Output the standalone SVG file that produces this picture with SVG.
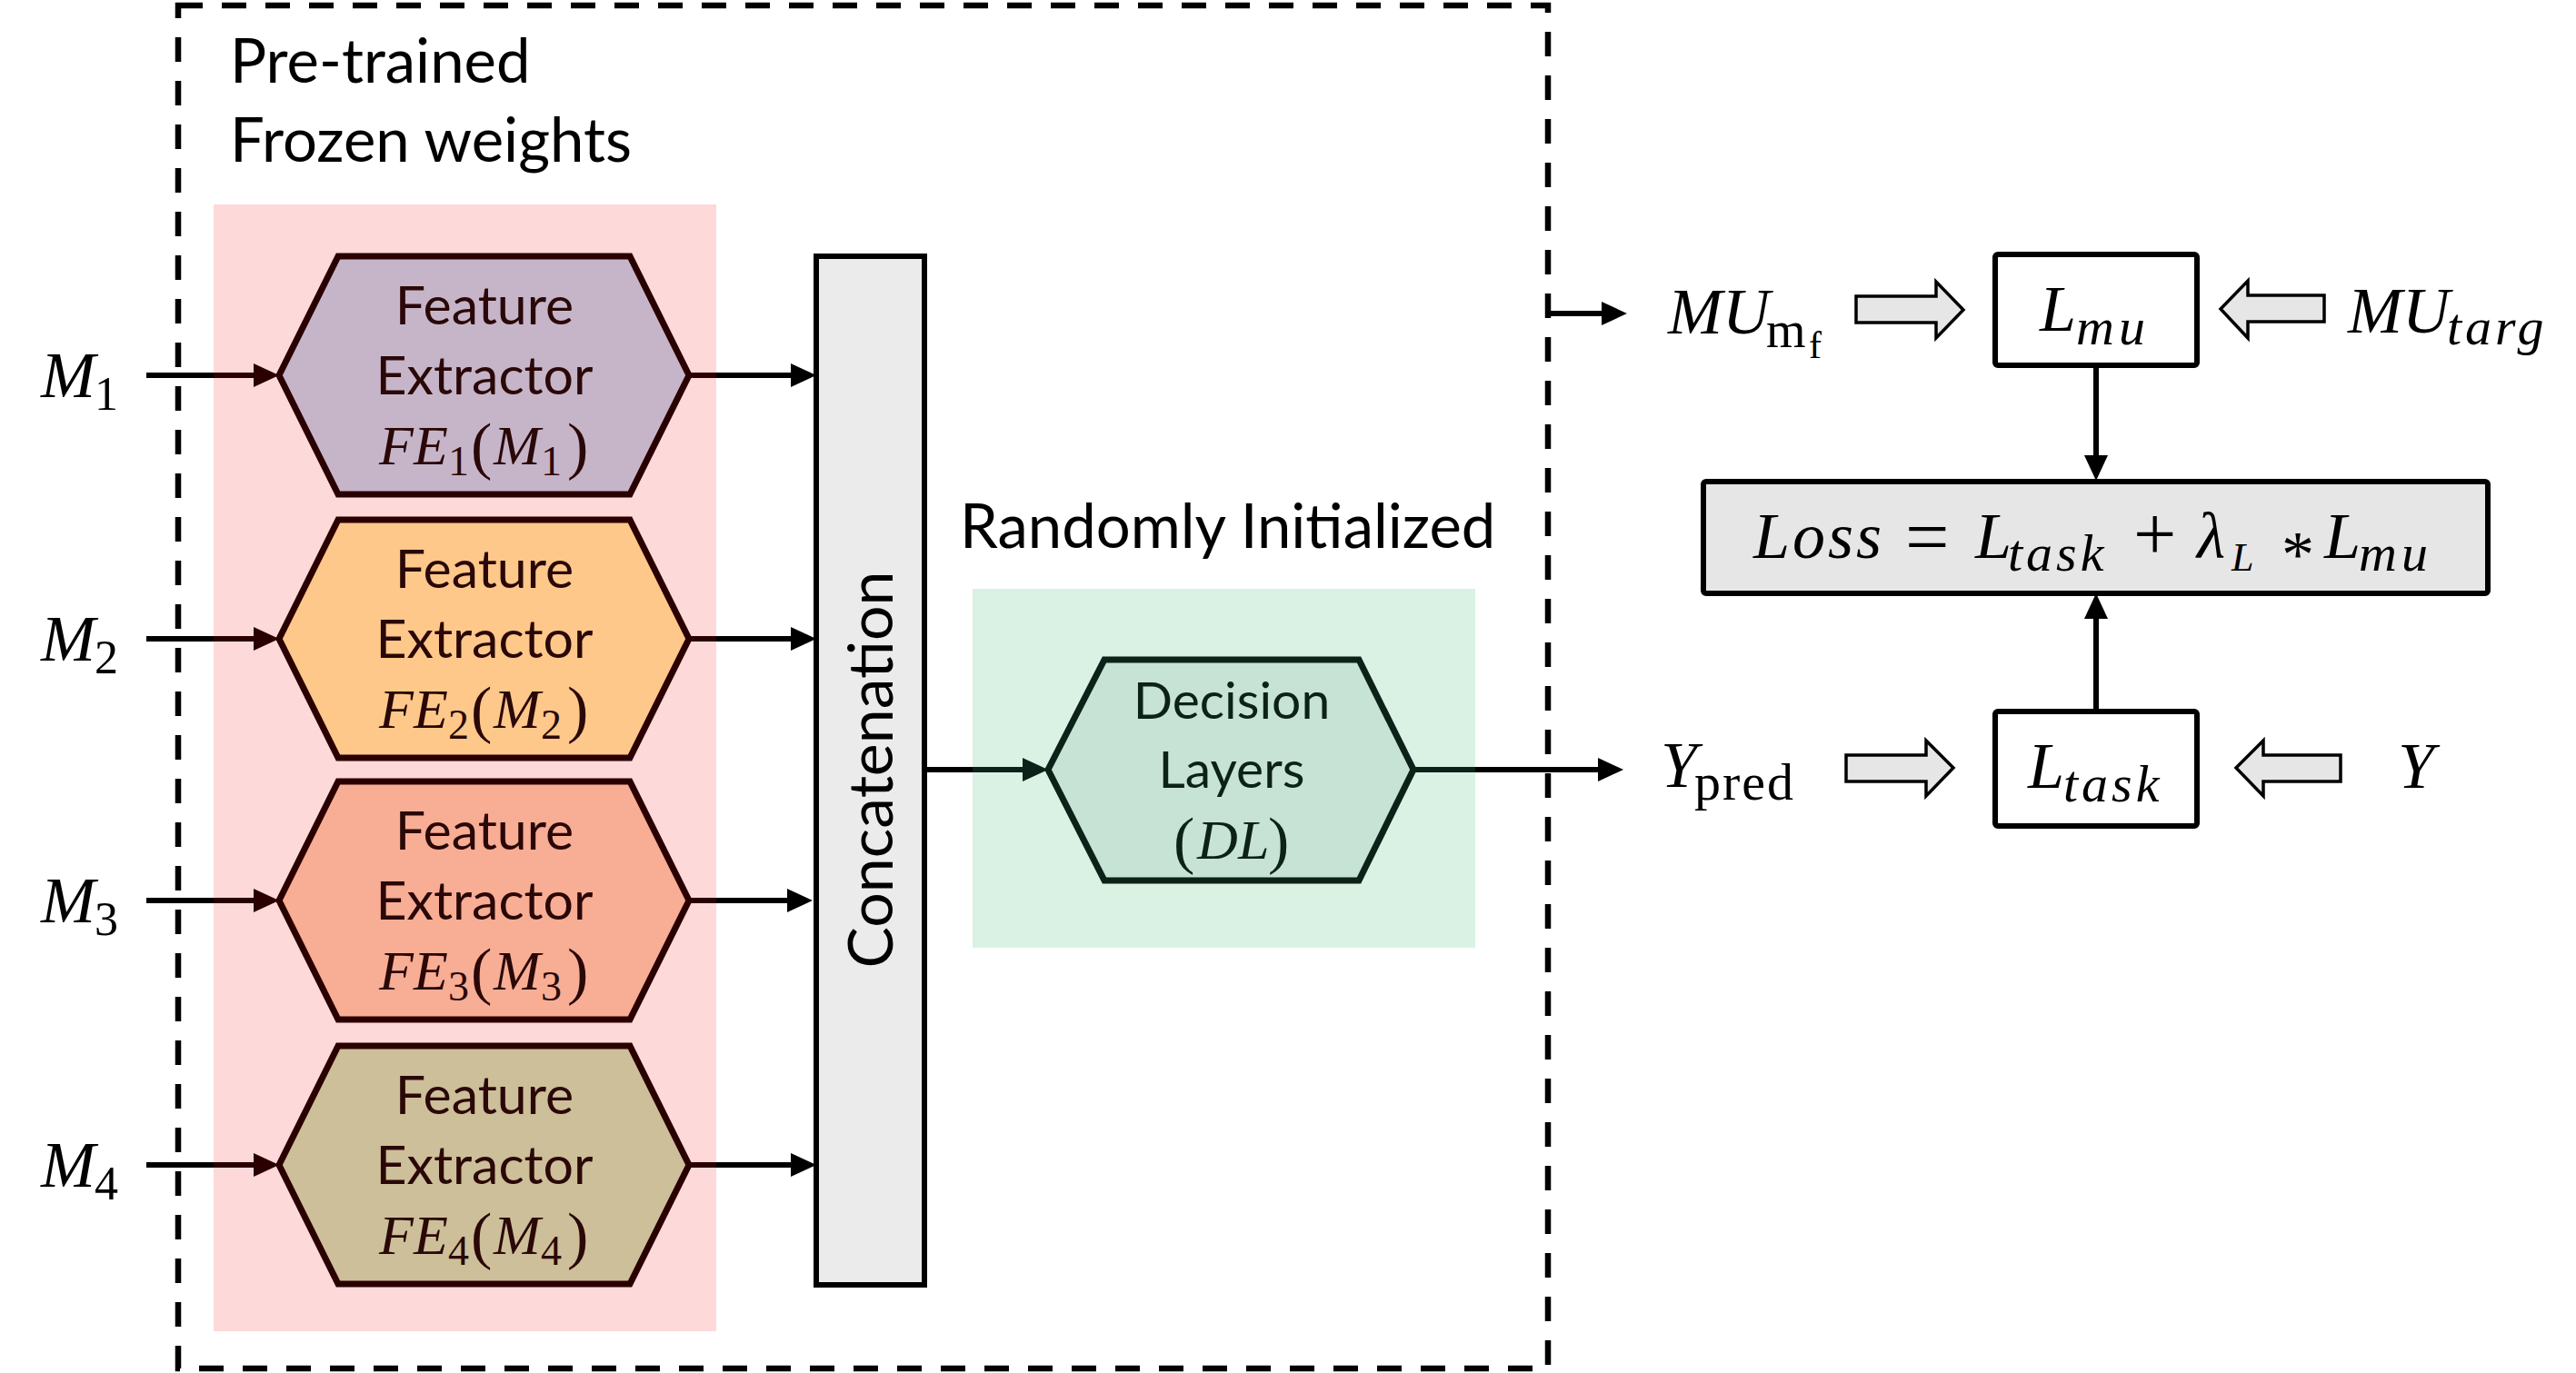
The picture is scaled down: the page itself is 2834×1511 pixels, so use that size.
<svg xmlns="http://www.w3.org/2000/svg" width="2834" height="1511" viewBox="0 0 2834 1511">
<style>
.sans{font-family:"Lato","Liberation Sans",sans-serif;}
.math{font-family:"Liberation Serif","DejaVu Serif",serif;}
.it{font-style:italic;}
.hexfe{stroke:#2a0000;stroke-width:7;stroke-linejoin:miter;}
.hexdl{stroke:#0c2218;stroke-width:7;fill:#c6e3d5;}
.box{fill:#ffffff;stroke:#000;stroke-width:6;}
.blk{fill:#e7e6e6;stroke:#000;stroke-width:3.5;stroke-linejoin:miter;}
.ln{fill:none;stroke:#000;stroke-width:6;}
.lnr{fill:none;stroke:#2a0000;stroke-width:6;}
.lng{fill:none;stroke:#0c2218;stroke-width:6;}
.fet{fill:#2a0808;}
.dlt{fill:#0c2218;}
</style>
<defs>
<marker id="ah" markerUnits="userSpaceOnUse" markerWidth="30" markerHeight="28" refX="8" refY="13" orient="auto"><path d="M0,0 L28,13 L0,26 z" fill="#000"/></marker>
<marker id="ahr" markerUnits="userSpaceOnUse" markerWidth="30" markerHeight="28" refX="8" refY="13" orient="auto"><path d="M0,0 L28,13 L0,26 z" fill="#2a0000"/></marker>
<marker id="ahg" markerUnits="userSpaceOnUse" markerWidth="30" markerHeight="28" refX="8" refY="13" orient="auto"><path d="M0,0 L28,13 L0,26 z" fill="#0c2218"/></marker>
</defs>
<rect width="2834" height="1511" fill="#ffffff"/>

<g id="frozen-region">
<rect x="196" y="6" width="1507" height="1500" fill="none" stroke="#000" stroke-width="6.5" stroke-dasharray="27 21"/>
<text class="sans" x="253" y="91" font-size="67">Pre-trained</text>
<text class="sans" x="253" y="178" font-size="67">Frozen weights</text>
<rect x="235" y="225" width="553" height="1240" fill="#fdd9da"/>
</g>

<g id="random-region">
<text class="sans" x="1056" y="603" font-size="67">Randomly Initialized</text>
<rect x="1070" y="648" width="553" height="395" fill="#d9f2e4"/>
</g>

<g id="connectors">
<path class="ln" d="M161,413 H235"/><path class="lnr" d="M235,413 H287" marker-end="url(#ahr)"/>
<path class="ln" d="M161,703 H235"/><path class="lnr" d="M235,703 H287" marker-end="url(#ahr)"/>
<path class="ln" d="M161,991 H235"/><path class="lnr" d="M235,991 H287" marker-end="url(#ahr)"/>
<path class="ln" d="M161,1282 H235"/><path class="lnr" d="M235,1282 H287" marker-end="url(#ahr)"/>
<path class="lnr" d="M758,413 H788"/><path class="ln" d="M788,413 H878" marker-end="url(#ah)"/>
<path class="lnr" d="M758,703 H788"/><path class="ln" d="M788,703 H878" marker-end="url(#ah)"/>
<path class="lnr" d="M758,991 H788"/><path class="ln" d="M788,991 H874" marker-end="url(#ah)"/>
<path class="lnr" d="M758,1282 H788"/><path class="ln" d="M788,1282 H878" marker-end="url(#ah)"/>
<path class="ln" d="M1017,847 H1070"/><path class="lng" d="M1070,847 H1133" marker-end="url(#ahg)"/>
<path class="lng" d="M1555,847 H1623"/><path class="ln" d="M1623,847 H1766" marker-end="url(#ah)"/>
<path class="ln" d="M1706,345 H1770" marker-end="url(#ah)"/>
<path class="ln" d="M2306,402 V509" marker-end="url(#ah)"/>
<path class="ln" d="M2306,783 V673" marker-end="url(#ah)"/>
<polygon class="blk" points="2042,326 2130,326 2130,310 2160,341 2130,372 2130,355 2042,355"/>
<polygon class="blk" points="2557,325 2473,325 2473,309 2443,340 2473,372 2473,354 2557,354"/>
<polygon class="blk" points="2031,831 2119,831 2119,815 2149,845 2119,876 2119,860 2031,860"/>
<polygon class="blk" points="2575,831 2490,831 2490,815 2460,845 2490,876 2490,860 2575,860"/>
</g>

<g id="input-m1"><text class="math" y="437"><tspan class="it" x="45" font-size="72">M</tspan><tspan x="104" y="451" font-size="52">1</tspan></text></g>
<g id="input-m2"><text class="math" y="727"><tspan class="it" x="45" font-size="72">M</tspan><tspan x="104" y="741" font-size="52">2</tspan></text></g>
<g id="input-m3"><text class="math" y="1015"><tspan class="it" x="45" font-size="72">M</tspan><tspan x="104" y="1029" font-size="52">3</tspan></text></g>
<g id="input-m4"><text class="math" y="1306"><tspan class="it" x="45" font-size="72">M</tspan><tspan x="104" y="1320" font-size="52">4</tspan></text></g>

<g id="fe1">
<polygon class="hexfe" fill="#c6b5c9" points="307,413 372,282 693,282 758,413 693,544 372,544"/>
<text class="sans fet" x="533" y="357" font-size="59" text-anchor="middle">Feature</text>
<text class="sans fet" x="533" y="434" font-size="59" text-anchor="middle">Extractor</text>
<text class="math fet" y="511" font-size="62"><tspan class="it" x="417">F</tspan><tspan class="it" x="455">E</tspan><tspan x="493" y="523" font-size="46">1</tspan><tspan x="518" y="514" font-size="70">(</tspan><tspan class="it" x="543" y="511">M</tspan><tspan x="595" y="523" font-size="46">1</tspan><tspan x="624" y="514" font-size="70">)</tspan></text>
</g>
<g id="fe2">
<polygon class="hexfe" fill="#fec88a" points="307,703 372,572 693,572 758,703 693,834 372,834"/>
<text class="sans fet" x="533" y="647" font-size="59" text-anchor="middle">Feature</text>
<text class="sans fet" x="533" y="724" font-size="59" text-anchor="middle">Extractor</text>
<text class="math fet" y="801" font-size="62"><tspan class="it" x="417">F</tspan><tspan class="it" x="455">E</tspan><tspan x="493" y="813" font-size="46">2</tspan><tspan x="518" y="804" font-size="70">(</tspan><tspan class="it" x="543" y="801">M</tspan><tspan x="595" y="813" font-size="46">2</tspan><tspan x="624" y="804" font-size="70">)</tspan></text>
</g>
<g id="fe3">
<polygon class="hexfe" fill="#f8ad95" points="307,991 372,860 693,860 758,991 693,1122 372,1122"/>
<text class="sans fet" x="533" y="935" font-size="59" text-anchor="middle">Feature</text>
<text class="sans fet" x="533" y="1012" font-size="59" text-anchor="middle">Extractor</text>
<text class="math fet" y="1089" font-size="62"><tspan class="it" x="417">F</tspan><tspan class="it" x="455">E</tspan><tspan x="493" y="1101" font-size="46">3</tspan><tspan x="518" y="1092" font-size="70">(</tspan><tspan class="it" x="543" y="1089">M</tspan><tspan x="595" y="1101" font-size="46">3</tspan><tspan x="624" y="1092" font-size="70">)</tspan></text>
</g>
<g id="fe4">
<polygon class="hexfe" fill="#cdbf99" points="307,1282 372,1151 693,1151 758,1282 693,1413 372,1413"/>
<text class="sans fet" x="533" y="1226" font-size="59" text-anchor="middle">Feature</text>
<text class="sans fet" x="533" y="1303" font-size="59" text-anchor="middle">Extractor</text>
<text class="math fet" y="1380" font-size="62"><tspan class="it" x="417">F</tspan><tspan class="it" x="455">E</tspan><tspan x="493" y="1392" font-size="46">4</tspan><tspan x="518" y="1383" font-size="70">(</tspan><tspan class="it" x="543" y="1380">M</tspan><tspan x="595" y="1392" font-size="46">4</tspan><tspan x="624" y="1383" font-size="70">)</tspan></text>
</g>

<g id="concatenation">
<rect x="898" y="282" width="119" height="1132" fill="#ebebeb" stroke="#000" stroke-width="6"/>
<text class="sans" font-size="68" text-anchor="middle" transform="translate(982,847) rotate(-90)">Concatenation</text>
</g>

<g id="decision-layers">
<polygon class="hexdl" points="1153,847 1215,726 1495,726 1555,847 1495,969 1215,969"/>
<text class="sans dlt" x="1355" y="791" font-size="57" text-anchor="middle">Decision</text>
<text class="sans dlt" x="1355" y="867" font-size="57" text-anchor="middle">Layers</text>
<text class="math dlt" y="945" font-size="62"><tspan x="1291" y="948" font-size="70">(</tspan><tspan class="it" x="1317" y="945">D</tspan><tspan class="it" x="1362">L</tspan><tspan x="1395" y="948" font-size="70">)</tspan></text>
</g>

<g id="mu-mf"><text class="math" y="367" font-size="72"><tspan class="it" x="1835">MU</tspan><tspan x="1943" y="382" font-size="56">m</tspan><tspan x="1990" y="394" font-size="42">f</tspan></text></g>
<g id="mu-targ"><text class="math" y="366" font-size="72"><tspan class="it" x="2583">MU</tspan><tspan class="it" x="2692" y="379" font-size="58" letter-spacing="4">targ</tspan></text></g>
<g id="y-pred"><text class="math" y="866" font-size="72"><tspan class="it" x="1827">Y</tspan><tspan x="1864" y="880" font-size="58" letter-spacing="2">pred</tspan></text></g>
<g id="y-true"><text class="math it" x="2638" y="867" font-size="72">Y</text></g>

<g id="l-mu">
<rect class="box" x="2195" y="280" width="222" height="122" rx="3"/>
<text class="math it" y="364" font-size="72"><tspan x="2244">L</tspan><tspan x="2284" y="379" font-size="58" letter-spacing="5">mu</tspan></text>
</g>
<g id="l-task">
<rect class="box" x="2195" y="783" width="222" height="126" rx="3"/>
<text class="math it" y="867" font-size="72"><tspan x="2231">L</tspan><tspan x="2270" y="882" font-size="58" letter-spacing="4">task</tspan></text>
</g>
<g id="loss">
<rect x="1874" y="530" width="863" height="123" rx="3" fill="#e7e6e6" stroke="#000" stroke-width="6"/>
<text class="math" y="614" font-size="72"><tspan class="it" x="1929" letter-spacing="3">Loss</tspan><tspan x="2096" y="620" font-size="86">=</tspan><tspan class="it" x="2173" y="614">L</tspan><tspan class="it" x="2209" y="628" font-size="58" letter-spacing="4">task</tspan><tspan x="2347" y="616" font-size="84">+</tspan><tspan class="it" x="2417" y="614">λ</tspan><tspan class="it" x="2455" y="628" font-size="44">L</tspan><tspan x="2510" y="634">*</tspan><tspan class="it" x="2557" y="614">L</tspan><tspan class="it" x="2595" y="628" font-size="58" letter-spacing="5">mu</tspan></text>
</g>
</svg>
